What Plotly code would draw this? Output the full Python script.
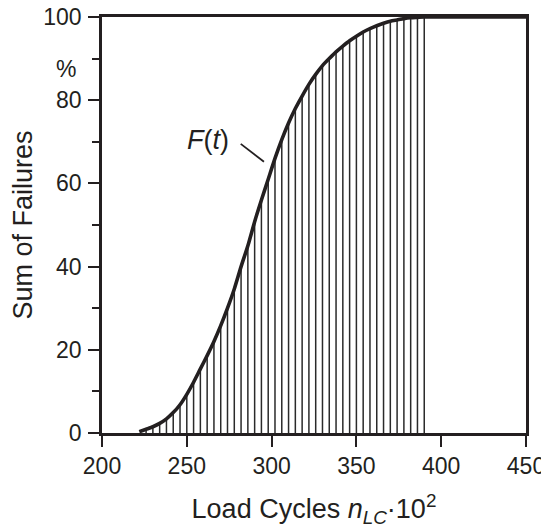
import plotly.graph_objects as go

# Data
cycles = [226, 230, 234, 238, 242, 246, 250, 254, 258, 262, 266, 270, 274, 278,
          282, 286, 290, 294, 298, 302, 306, 310, 314, 318, 322, 326, 330, 334,
          338, 342, 346, 350, 354, 358, 362, 366, 370, 374, 378, 382, 386, 390]
failures = [0.9, 1.5, 2.3, 3.4, 4.9, 6.8, 9.3, 12.2, 15.4, 18.6, 22.0, 25.8, 30.0, 34.6,
            40.0, 45.0, 50.8, 56.0, 61.0, 66.0, 70.5, 74.5, 78.0, 81.0, 83.8, 86.2, 88.3, 90.0,
            91.6, 93.0, 94.3, 95.4, 96.4, 97.2, 97.9, 98.5, 99.0, 99.3, 99.6, 99.8, 99.9, 100.0]
curve_start = (222, 0.3)
curve_end = (450, 100.0)

x_ticks = [200, 250, 300, 350, 400, 450]
y_ticks = [0, 20, 40, 60, 80, 100]
y_minor = [10, 30, 50, 70, 90]

INK = "#231f20"
FONT = "Liberation Sans, Arial, sans-serif"
TICK_SIZE = 23
TITLE_SIZE = 27

# vertical lines
vx, vy = [], []
for x, y in zip(cycles, failures):
    vx += [x, x, None]
    vy += [0, y, None]

fig = go.Figure()
fig.add_trace(go.Scatter(x=vx, y=vy, mode="lines",
                         line=dict(color="#2a2a2a", width=1.5),
                         hoverinfo="skip", showlegend=False))
cx = [curve_start[0]] + cycles + [curve_end[0]]
cy = [curve_start[1]] + failures + [curve_end[1]]
fig.add_trace(go.Scatter(x=cx, y=cy, mode="lines",
                         line=dict(color=INK, width=3.6, shape="spline", smoothing=0.6),
                         hoverinfo="skip", showlegend=False))

fig.add_shape(type="line", x0=281.8, y0=69.5, x1=295.5, y1=65.2,
              line=dict(color=INK, width=1.8))
fig.add_annotation(x=262.5, y=70.4, text="<i>F</i>(<i>t</i>)", showarrow=False,
                   font=dict(size=TITLE_SIZE, color=INK, family=FONT))
fig.add_annotation(x=0, xref="paper", y=87.4, yref="y", text="%", showarrow=False,
                   xanchor="right", xshift=-24, font=dict(size=TICK_SIZE, color=INK, family=FONT))

# page body has an 8px default margin; compensate so plot sits at the reference position
fig.update_layout(
    width=541, height=520,
    margin=dict(l=94, r=23, t=9, b=95),
    paper_bgcolor="white", plot_bgcolor="white",
    font=dict(family=FONT, color=INK),
    xaxis=dict(range=[200, 450], tickvals=x_ticks, ticks="outside", ticklen=11,
               tickwidth=1.5, tickcolor=INK, showline=True, linecolor=INK, linewidth=2.5,
               mirror=True, showgrid=False, zeroline=False, automargin=False,
               ticklabelstandoff=0, ticklabeloverflow="allow",
               tickfont=dict(size=TICK_SIZE, color=INK, family=FONT),
               title=dict(text="Load Cycles <i>n</i><sub><i>LC</i></sub>·10<sup>2</sup>",
                          font=dict(size=TITLE_SIZE, color=INK, family=FONT), standoff=24)),
    yaxis=dict(range=[0, 100], tickvals=y_ticks, ticks="outside", ticklen=11,
               tickwidth=1.5, tickcolor=INK, showline=True, linecolor=INK, linewidth=2.5,
               mirror=True, showgrid=False, zeroline=False, automargin=False,
               ticklabelstandoff=2, ticklabeloverflow="allow",
               tickfont=dict(size=TICK_SIZE, color=INK, family=FONT),
               minor=dict(tickvals=y_minor, ticks="outside", ticklen=7, tickwidth=1.5,
                          tickcolor=INK, showgrid=False),
               title=dict(text="Sum of Failures", font=dict(size=TITLE_SIZE, color=INK, family=FONT),
                          standoff=17)),
)

fig.write_html("out.html")
